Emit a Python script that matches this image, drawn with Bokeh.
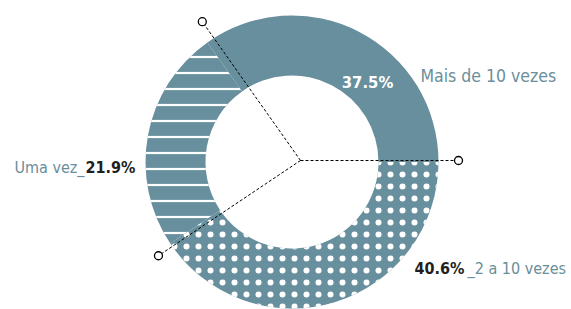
import numpy as np
from bokeh.plotting import figure
from bokeh.models import Range1d
from bokeh.core.properties import value
from bokeh.embed import file_html
from bokeh.resources import INLINE

# ---- data ----
categories = ["Mais de 10 vezes", "Uma vez", "2 a 10 vezes"]
label_values = [37.5, 21.9, 40.6]          # printed percentages
drawn_shares = [34.8, 24.6, 40.6]          # slice sizes as drawn in the picture
leader_lengths = [158, 170, 171]

# ---- styling ----
SLATE = "#688f9d"
TEXT_SLATE = "#6a8e9b"
DARK = "#231f20"
FONT = value("DejaVu Sans Condensed")

W, H = 571, 309
cx, cy = 291.5, 147.5          # donut centre (data units == pixels, y up)
r_in, r_out = 86.5, 146.5
lx, ly = 300.0, 149.0          # leader origin

p = figure(width=W, height=H, output_backend="svg", toolbar_location=None,
           x_range=Range1d(0, W), y_range=Range1d(0, H),
           min_border=0, outline_line_color=None)
p.axis.visible = False
p.grid.visible = False
p.background_fill_color = "white"
p.border_fill_color = "white"

shares = np.array(drawn_shares) / 100.0
ends = np.cumsum(shares) * 2 * np.pi
starts = np.concatenate([[0.0], ends[:-1]])

hatch = [dict(hatch_pattern="blank"),
         dict(hatch_pattern="horizontal_line", hatch_color="white", hatch_scale=16, hatch_weight=2.2),
         dict(hatch_pattern="dot", hatch_color="white", hatch_scale=12, hatch_weight=3)]

for i in range(3):
    p.annular_wedge(x=cx, y=cy, inner_radius=r_in, outer_radius=r_out,
                    start_angle=starts[i], end_angle=ends[i],
                    fill_color=SLATE, line_color=None, **hatch[i])

# leader lines at slice boundaries
b_angles = np.array([0.0, ends[0], ends[1]])
ex = lx + np.array(leader_lengths) * np.cos(b_angles)
ey = ly + np.array(leader_lengths) * np.sin(b_angles)
p.segment(x0=[lx] * 3, y0=[ly] * 3, x1=ex, y1=ey, line_color="black",
          line_width=1, line_dash="3 2")
p.scatter(x=ex, y=ey, marker="circle", size=8, fill_color="white",
          line_color="black", line_width=1.3)

# labels
pct = [f"{v:.1f}%" for v in label_values]

p.text(x=[367], y=[227], text=[pct[0]], text_font=FONT, text_font_size="16.5px",
       text_font_style="bold", text_color="white", text_baseline="alphabetic",
       text_align="center")
p.text(x=[420], y=[234], text=[categories[0]], text_font=FONT, text_font_size="17.5px",
       text_color=TEXT_SLATE, text_baseline="alphabetic")

p.text(x=[84], y=[142], text=[categories[1] + "_"], text_font=FONT, text_font_size="16px",
       text_color=TEXT_SLATE, text_baseline="alphabetic", text_align="right")
p.text(x=[85], y=[142], text=[pct[1]], text_font=FONT, text_font_size="16px",
       text_font_style="bold", text_color=DARK, text_baseline="alphabetic", text_align="left")

p.text(x=[464], y=[41], text=[pct[2]], text_font=FONT, text_font_size="16px",
       text_font_style="bold", text_color=DARK, text_baseline="alphabetic", text_align="right")
p.text(x=[467], y=[41], text=["_" + categories[2]], text_font=FONT, text_font_size="16px",
       text_color=TEXT_SLATE, text_baseline="alphabetic", text_align="left")

open("out.html", "w").write(file_html(p, INLINE))
